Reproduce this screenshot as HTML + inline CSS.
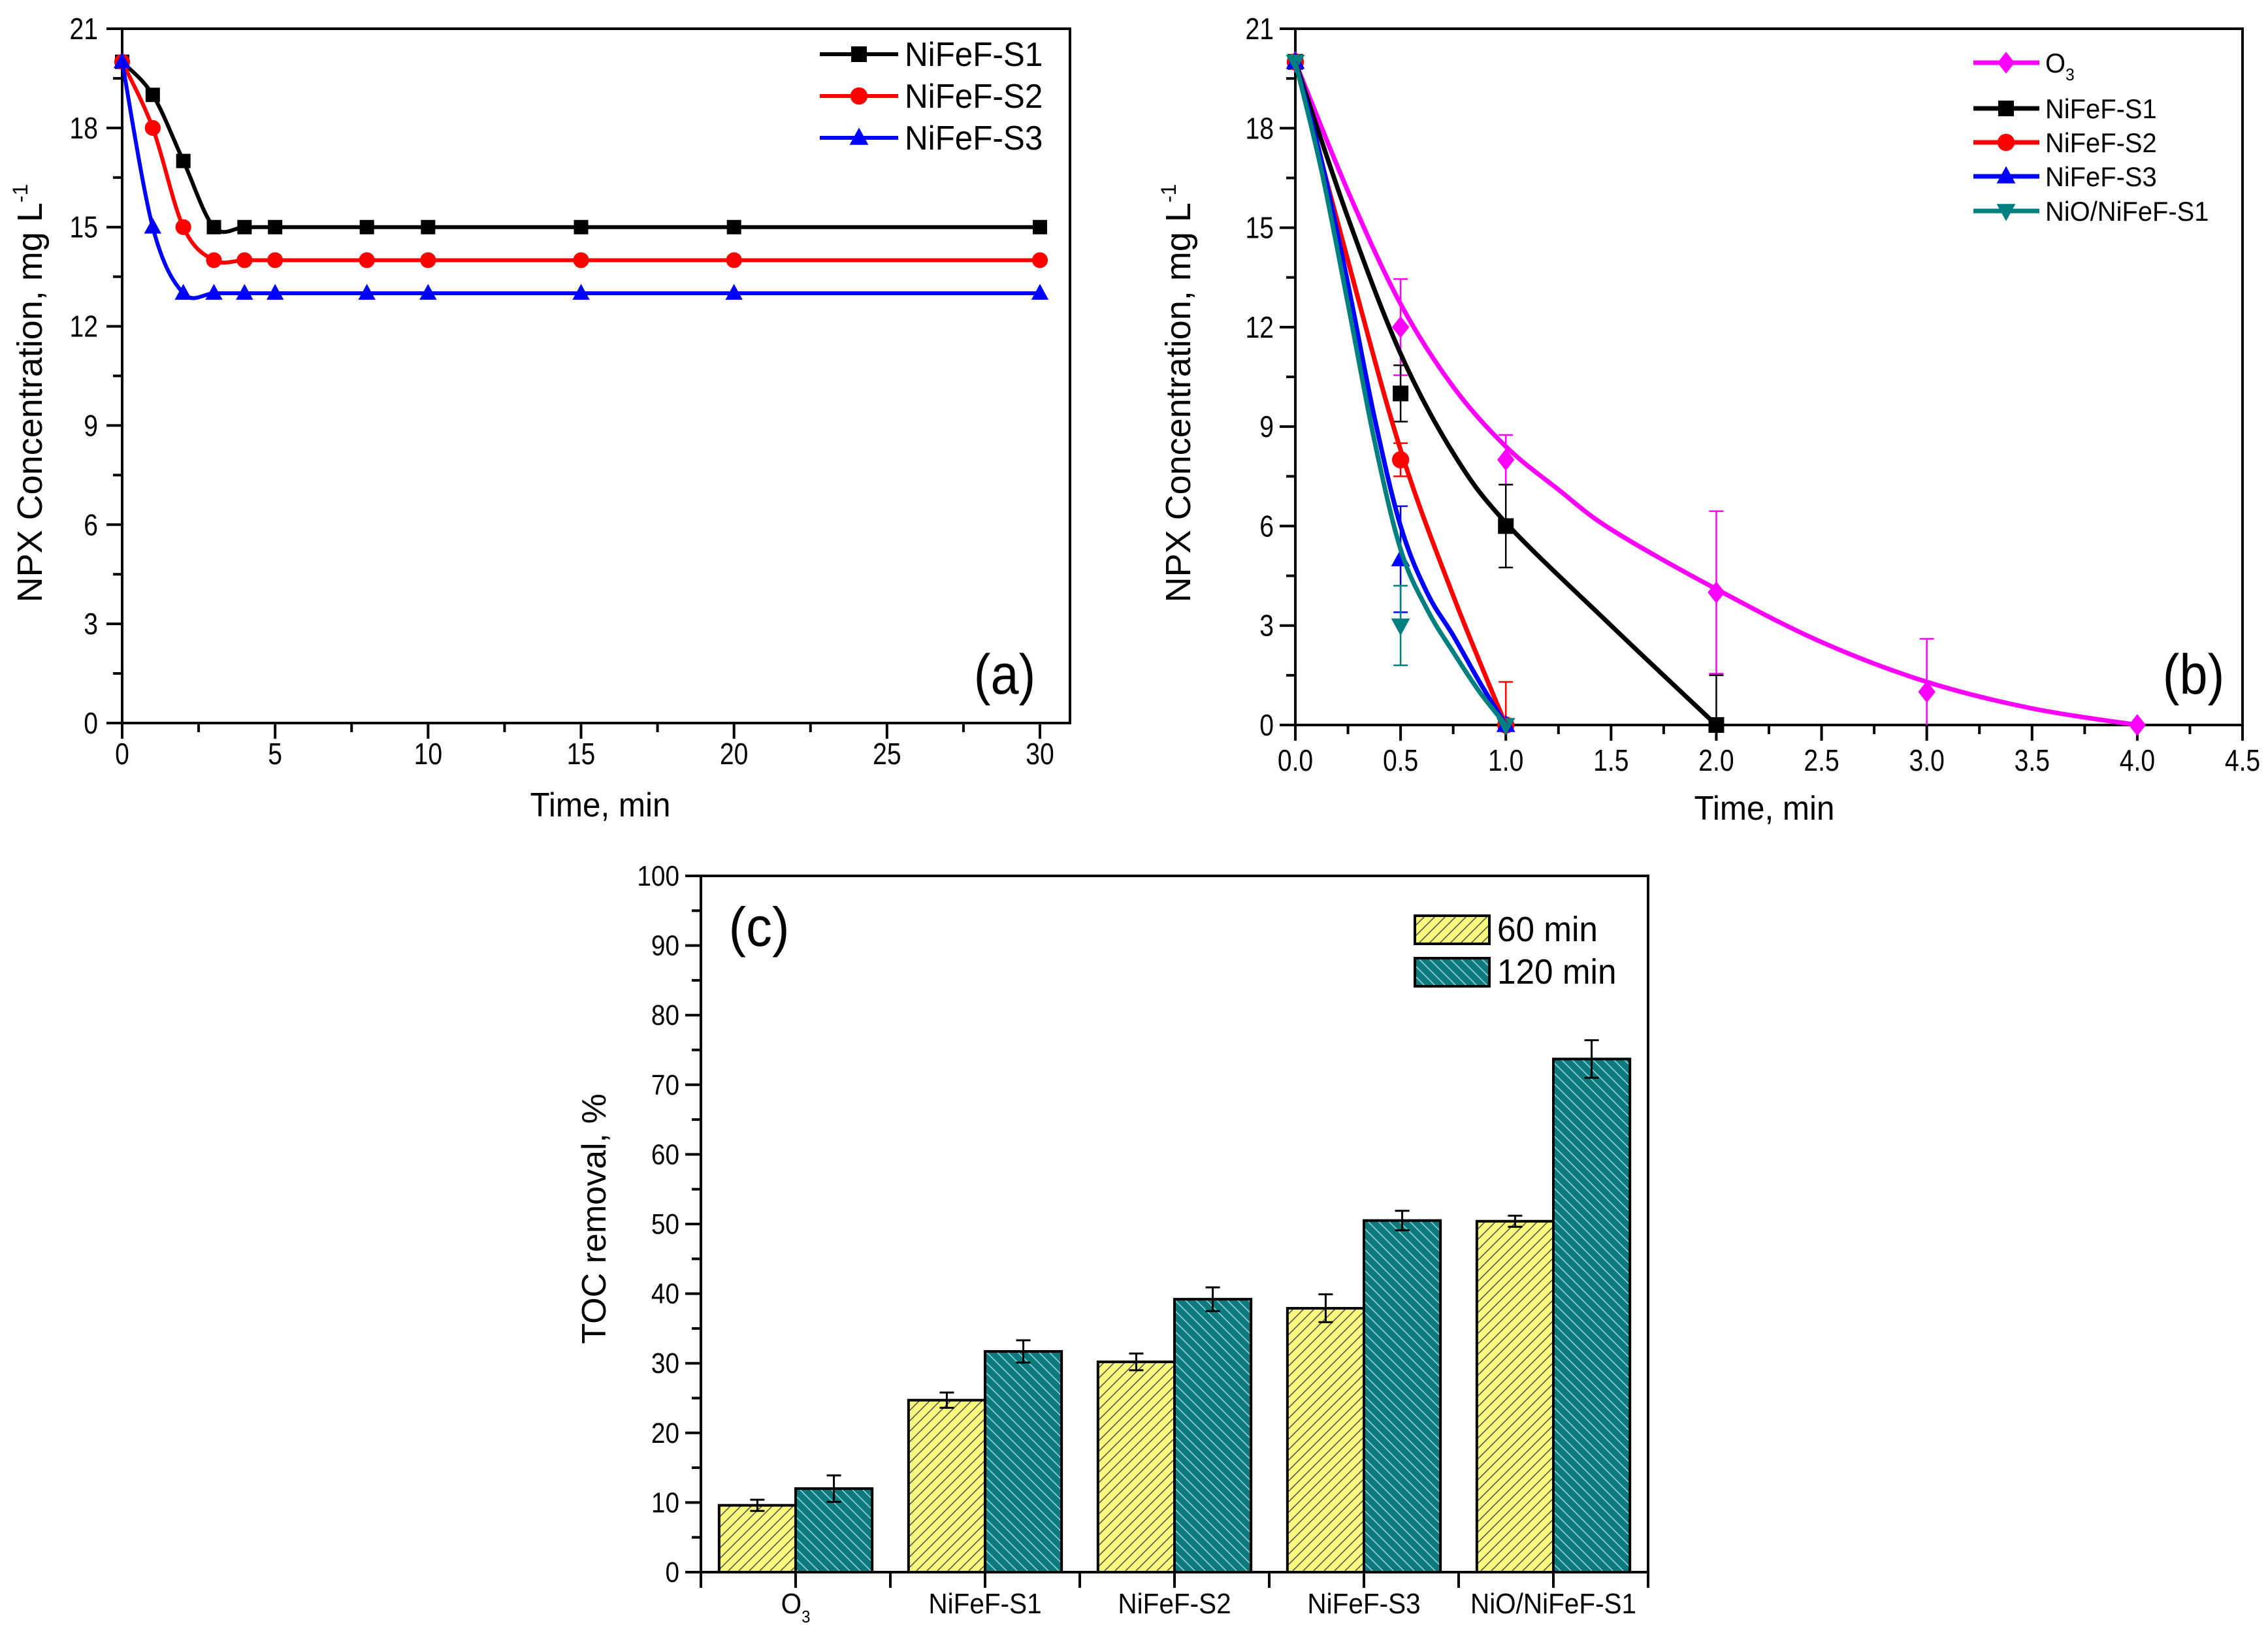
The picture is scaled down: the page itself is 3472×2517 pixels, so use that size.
<!DOCTYPE html>
<html><head><meta charset="utf-8"><style>
html,body{margin:0;padding:0;background:#fff}
svg{display:block}
text{font-family:"Liberation Sans",Arial,sans-serif;fill:#000}
</style></head><body>
<svg id="fig" xmlns="http://www.w3.org/2000/svg" width="3472" height="2517" viewBox="0 0 3472 2517">
<defs>
<pattern id="hatchY" patternUnits="userSpaceOnUse" width="16" height="16">
<rect width="16" height="16" fill="#f7f77c"/>
<path d="M-4,4 L4,-4 M0,16 L16,0 M12,20 L20,12" stroke="#555" stroke-width="1.6"/>
</pattern>
<pattern id="hatchT" patternUnits="userSpaceOnUse" width="16" height="16">
<rect width="16" height="16" fill="#0f7a7c"/>
<path d="M-4,12 L4,20 M0,0 L16,16 M12,-4 L20,4" stroke="#9fe0e8" stroke-width="1.4"/>
</pattern>
</defs>
<g id="pa"></g>
<g id="pb"></g>
<g id="pc"></g>
</svg>
<script>
// ---- Panel (a) data ----
const aTime = [0,1,2,3,4,5,8,10,15,20,30];
const aS1 = [20,19,17,15,15,15,15,15,15,15,15];
const aS2 = [20,18,15,14,14,14,14,14,14,14,14];
const aS3 = [20,15,13,13,13,13,13,13,13,13,13];
const aXTicks = [0,5,10,15,20,25,30];
const aYTicks = [0,3,6,9,12,15,18,21];
const aSeriesNames = ["NiFeF-S1","NiFeF-S2","NiFeF-S3"];

// ---- Panel (b) data ----
const bO3X = [0,0.5,1,2,3,4];
const bO3 = [20,12,8,4,1,0];
const bO3Err = [0,1.45,0.75,2.45,1.6,0];
const bS1X = [0,0.5,1,2];
const bS1 = [20,10,6,0];
const bS1Err = [0,0.85,1.25,1.5];
const bS2X = [0,0.5,1];
const bS2 = [20,8,0];
const bS2Err = [0,0.5,1.3];
const bS3X = [0,0.5,1];
const bS3 = [20,5,0];
const bS3Err = [0,1.6,0];
const bNiOX = [0,0.5,1];
const bNiO = [20,3,0];
const bNiOErr = [0,1.2,0];
// fitted curves
const bFitO3X = [0,0.25,0.5,0.75,1,1.25,1.5,2,2.5,3,3.5,4];
const bFitO3 = [20,16.1,12.7,10.2,8.4,7.1,5.9,4.1,2.5,1.3,0.5,0];
const bFitS1X = [0,0.25,0.5,0.75,1,1.5,2];
const bFitS1 = [20,15.3,11.2,8.2,6.1,3.0,0];
const bFitS2X = [0,0.25,0.5,0.75,1];
const bFitS2 = [20,14.0,8.3,3.9,0];
const bFitS3X = [0,0.125,0.25,0.375,0.5,0.625,0.75,0.875,1];
const bFitS3 = [20,17.0,13.3,9.3,6.0,4.0,2.7,1.3,0];
const bFitNiOX = [0,0.125,0.25,0.375,0.5,0.625,0.75,0.875,1];
const bFitNiO = [20,16.7,12.7,8.6,5.3,3.5,2.2,1.0,0];
const bXTicks = [0,0.5,1,1.5,2,2.5,3,3.5,4,4.5];
const bYTicks = [0,3,6,9,12,15,18,21];

// ---- Panel (c) data ----
const cCategories = ["O3","NiFeF-S1","NiFeF-S2","NiFeF-S3","NiO/NiFeF-S1"];
const c60 = [9.6,24.7,30.2,37.9,50.4];
const c60Err = [0.8,1.1,1.2,2.0,0.8];
const c120 = [12.0,31.7,39.2,50.5,73.7];
const c120Err = [1.9,1.6,1.7,1.4,2.7];
const cYTicks = [0,10,20,30,40,50,60,70,80,90,100];

const NS="http://www.w3.org/2000/svg";
function mk(parent,tag,attrs){const e=document.createElementNS(NS,tag);for(const k in attrs)e.setAttribute(k,attrs[k]);parent.appendChild(e);return e;}
function txt(parent,x,y,s,size,anchor,sx,name){
  const g=mk(parent,'g',{transform:`translate(${x},${y}) scale(${sx},1)`});
  
  
  const t=mk(g,'text',{x:0,y:0,'font-size':size,'text-anchor':anchor});
  t.textContent=s;return t;
}
function spline(pts){
  let d=`M${pts[0][0]},${pts[0][1]}`;
  for(let i=0;i<pts.length-1;i++){
    const p0=pts[Math.max(0,i-1)],p1=pts[i],p2=pts[i+1],p3=pts[Math.min(pts.length-1,i+2)];
    const c1=[p1[0]+(p2[0]-p0[0])/6,p1[1]+(p2[1]-p0[1])/6];
    const c2=[p2[0]-(p3[0]-p1[0])/6,p2[1]-(p3[1]-p1[1])/6];
    d+=` C${c1[0]},${c1[1]} ${c2[0]},${c2[1]} ${p2[0]},${p2[1]}`;
  }
  return d;
}
function marker(g,type,x,y,color,s){
  let e;
  if(type==='sq') e=mk(g,'rect',{x:x-s,y:y-s,width:2*s,height:2*s,fill:color});
  else if(type==='ci') e=mk(g,'circle',{cx:x,cy:y,r:s*1.1,fill:color});
  else if(type==='tu') e=mk(g,'polygon',{points:`${x},${y-s*1.3} ${x-s*1.2},${y+s*0.9} ${x+s*1.2},${y+s*0.9}`,fill:color});
  else if(type==='td') e=mk(g,'polygon',{points:`${x},${y+s*1.3} ${x-s*1.2},${y-s*0.9} ${x+s*1.2},${y-s*0.9}`,fill:color});
  else if(type==='di') e=mk(g,'polygon',{points:`${x},${y-s*1.4} ${x-s*1.1},${y} ${x},${y+s*1.4} ${x+s*1.1},${y}`,fill:color});
  
  
  return e;
}
function axesFrame(g,L,R,T,B){
  const f=mk(g,'rect',{x:L,y:T,width:R-L,height:B-T,fill:'none',stroke:'#000','stroke-width':4});
  
  
}

// ================= Panel A =================
(function(){
  const g=document.getElementById('pa');
  const L=187,R=1638,T=44,B=1107;
  const X=v=>L+(v/30)*(1592-L), Y=v=>B-(v/21)*(B-T);
  axesFrame(g,L,R,T,B);
  for(let v=0;v<=31;v+=2.5){const x=X(v);if(x>R)break;const major=(v%5===0);mk(g,'line',{x1:x,y1:B,x2:x,y2:B+(major?24:14),stroke:'#000','stroke-width':4});}
  for(let v=0;v<=21;v+=1.5){const y=Y(v);const major=(v%3===0);mk(g,'line',{x1:L,y1:y,x2:L-(major?24:14),y2:y,stroke:'#000','stroke-width':4});}
  aXTicks.forEach(v=>txt(g,X(v),1170,String(v),46,'middle',0.85,'x-tick-label'));
  aYTicks.forEach(v=>txt(g,150,Y(v)+16,String(v),46,'end',0.85,'y-tick-label'));
  txt(g,919,1250,'Time, min',52,'middle',0.95,'x-axis-title');
  const yg=mk(g,'g',{transform:'translate(64,602) rotate(-90)'});
  
  
  const yt=mk(yg,'text',{x:0,y:0,'font-size':54,'text-anchor':'middle'});
  yt.innerHTML='NPX Concentration, mg L<tspan dy="-22" font-size="32">-1</tspan>';
  txt(g,1538,1062,'(a)',86,'middle',0.9,'panel-label-a');
  const series=[[aS1,'#000','sq'],[aS2,'#f00','ci'],[aS3,'#00f','tu']];
  series.forEach(([ys,c,m],si)=>{
    const sg=mk(g,'g',{});
    
    
    const pts=aTime.map((t,i)=>[X(t),Y(ys[i])]);
    mk(sg,'path',{d:spline(pts),fill:'none',stroke:c,'stroke-width':6});
    pts.forEach(p=>marker(sg,m,p[0],p[1],c,11));
  });
  const lg=mk(g,'g',{});
  
  
  series.forEach(([ys,c,m],i)=>{
    const y=83+i*64;
    mk(lg,'line',{x1:1255,y1:y,x2:1375,y2:y,stroke:c,'stroke-width':6});
    marker(lg,m,1315,y,c,12);
    txt(lg,1385,y+18,aSeriesNames[i],52,'start',0.95,'legend-entry');
  });
})();

// ================= Panel B =================
(function(){
  const g=document.getElementById('pb');
  const L=1983,R=3433,T=44,B=1110;
  const X=v=>L+(v/4.5)*(R-L), Y=v=>B-(v/21)*(B-T);
  axesFrame(g,L,R,T,B);
  for(let v=0;v<=4.5001;v+=0.25){const x=X(v);const major=(Math.abs(v*2-Math.round(v*2))<1e-6);mk(g,'line',{x1:x,y1:B,x2:x,y2:B+(major?24:14),stroke:'#000','stroke-width':4});}
  for(let v=0;v<=21;v+=1.5){const y=Y(v);const major=(v%3===0);mk(g,'line',{x1:L,y1:y,x2:L-(major?24:14),y2:y,stroke:'#000','stroke-width':4});}
  bXTicks.forEach(v=>txt(g,X(v),1180,v.toFixed(1),46,'middle',0.85,'x-tick-label'));
  bYTicks.forEach(v=>txt(g,1950,Y(v)+16,String(v),46,'end',0.85,'y-tick-label'));
  txt(g,2701,1255,'Time, min',52,'middle',0.95,'x-axis-title');
  const yg=mk(g,'g',{transform:'translate(1822,602) rotate(-90)'});
  
  
  const yt=mk(yg,'text',{x:0,y:0,'font-size':54,'text-anchor':'middle'});
  yt.innerHTML='NPX Concentration, mg L<tspan dy="-22" font-size="32">-1</tspan>';
  txt(g,3358,1062,'(b)',86,'middle',0.9,'panel-label-b');
  const series=[
    ['o3',bO3X,bO3,bO3Err,bFitO3X,bFitO3,'#ff00ff','di'],
    ['nifef-s1',bS1X,bS1,bS1Err,bFitS1X,bFitS1,'#000','sq'],
    ['nifef-s2',bS2X,bS2,bS2Err,bFitS2X,bFitS2,'#f00','ci'],
    ['nifef-s3',bS3X,bS3,bS3Err,bFitS3X,bFitS3,'#00f','tu'],
    ['nio-nifef-s1',bNiOX,bNiO,bNiOErr,bFitNiOX,bFitNiO,'#008080','td']
  ];
  series.forEach(([n,xs,ys,es,fx,fy,c,m])=>{
    const sg=mk(g,'g',{});
    
    
    xs.forEach((t,i)=>{ if(es[i]>0){const x=X(t);
      const lo=Math.max(0,ys[i]-es[i]), hi=ys[i]+es[i];
      mk(sg,'line',{x1:x,y1:Y(lo),x2:x,y2:Y(hi),stroke:c,'stroke-width':2.5});
      if(ys[i]-es[i]>0) mk(sg,'line',{x1:x-11,y1:Y(lo),x2:x+11,y2:Y(lo),stroke:c,'stroke-width':2.5});
      mk(sg,'line',{x1:x-11,y1:Y(hi),x2:x+11,y2:Y(hi),stroke:c,'stroke-width':2.5});}});
    xs.forEach((t,i)=>marker(sg,m,X(t),Y(ys[i]),c,12));
  });
  series.forEach(([n,xs,ys,es,fx,fy,c])=>{
    const p=mk(g,'path',{d:spline(fx.map((t,i)=>[X(t),Y(fy[i])])),fill:'none',stroke:c,'stroke-width':7});
    
    
  });
  const lg=mk(g,'g',{});
  
  
  const names=['O','NiFeF-S1','NiFeF-S2','NiFeF-S3','NiO/NiFeF-S1'];
  const ly=[96,166,218,270,323];
  series.forEach((s,i)=>{
    const y=ly[i];
    mk(lg,'line',{x1:3021,y1:y,x2:3122,y2:y,stroke:s[6],'stroke-width':7});
    marker(lg,s[7],3071,y,s[6],12);
    const t=txt(lg,3131,y+15,names[i],42,'start',0.95,'legend-entry');
    if(i===0){const ts=mk(t,'tspan',{dy:12,'font-size':26});ts.textContent='3';}
  });
})();

// ================= Panel C =================
(function(){
  const g=document.getElementById('pc');
  const L=1073,R=2523,T=1341,B=2407;
  const n=cCategories.length, band=(R-L)/n, bw=band*0.404;
  const Y=v=>B-(v/100)*(B-T);
  for(let v=0;v<=100;v+=5){const y=Y(v);const major=(v%10===0);mk(g,'line',{x1:L,y1:y,x2:L-(major?24:14),y2:y,stroke:'#000','stroke-width':4});}
  for(let i=0;i<=n;i++){const x=L+i*band;mk(g,'line',{x1:x,y1:B,x2:x,y2:B+24,stroke:'#000','stroke-width':4});}
  cCategories.forEach((c,i)=>{
    const cx=L+(i+0.5)*band;
    mk(g,'line',{x1:cx,y1:B,x2:cx,y2:B+24,stroke:'#000','stroke-width':4});
    const drawBar=(v,e,x,fill,nm)=>{
      const r=mk(g,'rect',{x:x,y:Y(v),width:bw,height:B-Y(v),fill:fill,stroke:'#000','stroke-width':4});
      
      
      const ex=x+bw/2;
      mk(g,'line',{x1:ex,y1:Y(v-e),x2:ex,y2:Y(v+e),stroke:'#000','stroke-width':3});
      mk(g,'line',{x1:ex-11,y1:Y(v-e),x2:ex+11,y2:Y(v-e),stroke:'#000','stroke-width':3});
      mk(g,'line',{x1:ex-11,y1:Y(v+e),x2:ex+11,y2:Y(v+e),stroke:'#000','stroke-width':3});
    };
    drawBar(c60[i],c60Err[i],cx-bw,'url(#hatchY)','bar-60min-'+i);
    drawBar(c120[i],c120Err[i],cx,'url(#hatchT)','bar-120min-'+i);
    const t=txt(g,cx,2470,c==='O3'?'O':c,44,'middle',0.92,'x-tick-label');
    if(c==='O3'){const ts=mk(t,'tspan',{dy:14,'font-size':26});ts.textContent='3';}
  });
  axesFrame(g,L,R,T,B);
  cYTicks.forEach(v=>txt(g,1040,Y(v)+15,String(v),44,'end',0.88,'y-tick-label'));
  const yg=mk(g,'g',{transform:'translate(927,1866) rotate(-90)'});
  
  
  const yt=mk(yg,'text',{x:0,y:0,'font-size':52,'text-anchor':'middle'});yt.textContent='TOC removal, %';
  txt(g,1162,1448,'(c)',84,'middle',0.95,'panel-label-c');
  const lg=mk(g,'g',{});
  
  
  [['url(#hatchY)','60 min',1402],['url(#hatchT)','120 min',1467]].forEach(([f,s,y])=>{
    mk(lg,'rect',{x:2166,y:y,width:114,height:43,fill:f,stroke:'#000','stroke-width':4});
    txt(lg,2292,y+39,s,54,'start',0.95,'legend-entry');
  });
})();
</script>
</body></html>
